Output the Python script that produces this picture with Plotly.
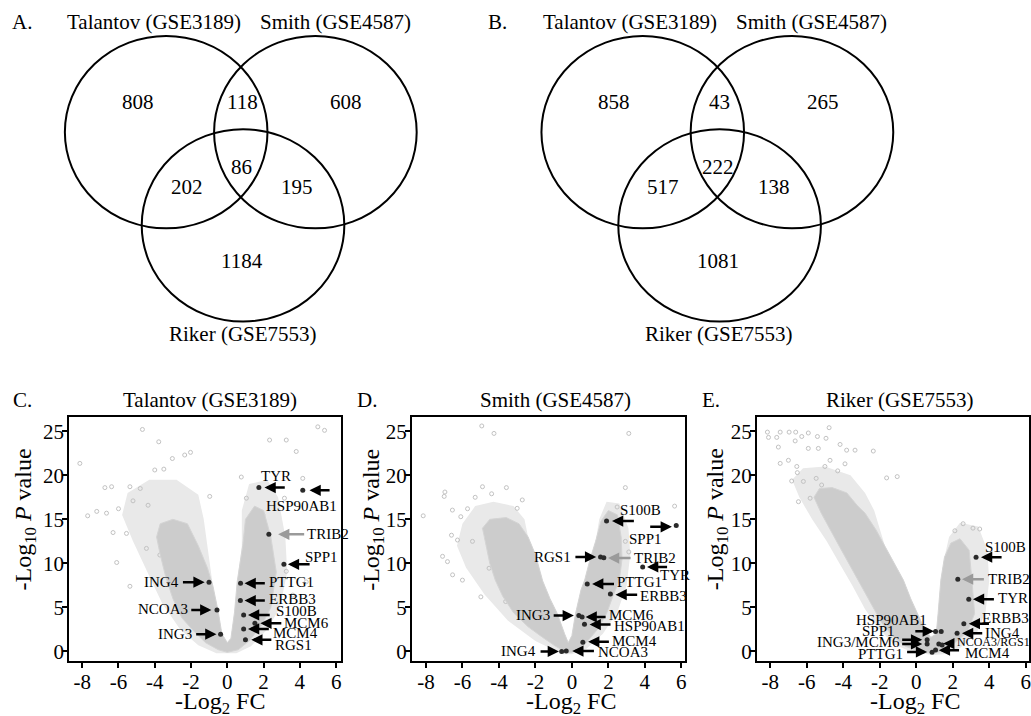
import plotly.graph_objects as go

FONT = "Liberation Serif"
W, H = 1031, 716

# ---------------- Venn data ----------------
venn_sets = ["Talantov (GSE3189)", "Smith (GSE4587)", "Riker (GSE7553)"]
venn_regions = ["T", "TS", "S", "TR", "TSR", "SR", "R"]
venn_A_counts = [808, 118, 608, 202, 86, 195, 1184]
venn_B_counts = [858, 43, 265, 517, 222, 138, 1081]

# ---------------- Volcano panels: labelled genes ----------------
genes_C = ["TYR", "HSP90AB1", "TRIB2", "SPP1", "ING4", "PTTG1", "ERBB3", "NCOA3", "S100B", "MCM6", "MCM4", "ING3", "RGS1"]
fc_C = [1.74, 4.16, 2.29, 3.12, -1.01, 0.73, 0.72, -0.57, 0.90, 1.52, 0.90, -0.37, 1.00]
p_C = [18.6, 18.3, 13.3, 9.9, 7.86, 7.74, 5.78, 4.72, 4.15, 3.2, 2.56, 1.96, 1.32]

genes_D = ["S100B", "SPP1", "RGS1", "TRIB2", "TYR", "PTTG1", "ERBB3", "ING3", "MCM6", "HSP90AB1", "MCM4", "ING4", "NCOA3"]
fc_D = [1.90, 5.72, 1.57, 1.75, 3.88, 0.84, 2.11, 0.38, 0.56, 0.69, 0.60, -0.56, -0.31]
p_D = [14.8, 14.3, 10.73, 10.65, 9.6, 7.67, 6.53, 4.08, 3.92, 3.1, 1.05, 0.0, 0.05]

genes_E = ["S100B", "TRIB2", "TYR", "ERBB3", "ING4", "HSP90AB1", "SPP1", "ING3", "MCM6", "NCOA3", "RGS1", "PTTG1", "MCM4"]
fc_E = [3.28, 2.28, 2.88, 2.61, 2.24, 1.06, 1.37, 0.60, 0.60, 1.24, 1.42, 0.87, 1.06]
p_E = [10.7, 8.2, 5.93, 3.15, 2.07, 2.27, 2.27, 1.32, 0.86, 0.86, 0.75, -0.08, 0.18]

# ---------------- Background gene cloud (envelopes) ----------------
core_C_x = [-0.5, -1.2, -1.8, -2.5, -3.0, -3.4, -3.7, -3.9, -3.7, -3.0, -2.2, -1.6, -1.1, -0.8, -0.5, -0.3, 0.0, 0.2, 0.4, 0.55, 0.85, 1.0, 1.5, 2.0, 2.4, 2.7, 2.4, 1.9, 1.2, 0.6, 0.0]
core_C_y = [0.2, 1.0, 2.2, 3.8, 6.0, 8.5, 11.0, 13.0, 14.5, 15.0, 14.5, 12.0, 9.5, 7.5, 4.5, 2.0, 1.0, 1.5, 4.5, 8.0, 12.0, 15.0, 16.5, 16.0, 13.0, 9.0, 5.0, 3.0, 1.2, 0.2, -0.1]
halo_C_x = [-0.6, -1.6, -2.6, -3.6, -4.4, -5.2, -5.8, -5.5, -4.3, -2.8, -1.6, -1.3, -1.1, -0.8, -0.5, -0.3, 0.0, 0.2, 0.4, 0.55, 0.8, 0.8, 1.2, 2.2, 2.8, 3.2, 3.3, 2.9, 2.2, 1.3, 0.5]
halo_C_y = [-0.2, 0.7, 2.5, 5.5, 9.0, 12.5, 15.5, 18.0, 19.5, 19.5, 17.8, 15.0, 12.0, 7.5, 4.5, 2.0, 1.0, 1.5, 4.5, 8.0, 12.0, 16.0, 19.0, 19.5, 17.5, 13.0, 9.0, 5.0, 2.5, 0.6, -0.2]
out_C_x = [-8.13, -4.68, -3.78, -2.03, -2.35, -3.5, -3.03, -6.75, -6.38, -7.7, -7.2, -6.66, -5.37, -4.8, -4.37, -0.97, 2.33, 3.25, 4.99, 5.36, 4.16, 3.8, 3.15, 1.05, 1.96, 0.77, -5.37, -4.46, -5.56, -3.72, -6.1, 3.61, 3.25, 4.35, -6.3, -6.0, -5.2, -4.0]
out_C_y = [21.35, 25.2, 23.8, 22.6, 22.3, 20.7, 21.9, 18.6, 18.7, 15.4, 15.9, 15.7, 18.7, 18.5, 16.6, 17.6, 24.0, 24.0, 25.5, 25.1, 19.65, 22.7, 17.4, 17.4, 15.5, 19.8, 7.4, 11.7, 13.4, 10.95, 10.1, 6.4, 9.1, 7.9, 13.5, 16.2, 17.1, 20.6]

core_D_x = [-0.3, -0.9, -1.6, -2.4, -3.2, -3.8, -4.2, -4.5, -4.7, -4.9, -4.5, -3.6, -2.9, -2.4, -2.0, -1.6, -1.2, -0.8, -0.4, -0.2, 0.0, 0.2, 0.5, 0.7, 1.0, 1.3, 1.6, 2.0, 2.5, 2.7, 2.75, 2.6, 2.2, 1.9, 1.4, 0.7, 0.0]
core_D_y = [-0.1, 0.6, 1.6, 2.8, 4.4, 6.3, 8.1, 10.0, 12.0, 14.0, 15.0, 15.2, 14.5, 13.0, 11.0, 8.0, 6.0, 4.3, 2.0, 1.0, 1.8, 4.3, 7.0, 8.1, 10.5, 12.5, 14.8, 16.0, 15.5, 13.0, 10.5, 8.1, 6.0, 4.3, 2.5, 0.8, -0.1]
halo_D_x = [-0.5, -2.0, -3.5, -4.8, -5.8, -6.3, -6.0, -5.3, -4.3, -3.2, -2.6, -2.4, -2.0, -1.6, -1.2, -0.8, -0.4, -0.2, 0.0, 0.2, 0.5, 0.7, 1.0, 1.3, 1.5, 1.9, 2.6, 3.1, 3.2, 3.0, 2.5, 1.7, 0.8, 0.0]
halo_D_y = [-0.3, 1.2, 3.5, 6.5, 9.5, 12.0, 14.5, 16.5, 17.0, 16.5, 15.0, 13.0, 11.0, 8.0, 6.0, 4.3, 2.0, 1.0, 1.8, 4.3, 7.0, 8.1, 10.5, 12.5, 15.0, 17.0, 16.8, 14.0, 11.0, 7.5, 4.5, 2.0, 0.3, -0.3]
out_D_x = [-4.94, -4.27, 3.12, 2.93, 5.63, -8.15, -6.96, -7.0, -4.9, -3.59, -6.55, -6.09, -5.72, -2.72, -3.0, 2.48, -7.09, -6.82, -6.54, -6.0, -4.99, -6.27, -5.45, -4.54, -3.63, 3.12, 2.93, -5.3, -4.4, -6.6]
out_D_y = [25.6, 24.75, 24.75, 18.6, 16.5, 15.4, 18.1, 17.6, 18.7, 18.6, 16.05, 15.3, 16.2, 17.2, 16.25, 16.4, 10.8, 10.2, 8.7, 8.1, 6.2, 12.65, 12.5, 9.45, 5.67, 11.3, 12.5, 17.5, 17.9, 13.2]

core_E_x = [0.9, 0.2, -0.6, -1.3, -1.9, -2.3, -2.8, -3.2, -3.7, -4.2, -4.7, -5.2, -5.6, -5.3, -4.6, -3.8, -3.2, -2.8, -2.2, -1.7, -1.2, -0.7, -0.3, 0.05, 0.4, 0.8, 1.1, 1.2, 1.35, 1.55, 1.9, 2.4, 2.9, 3.05, 3.2, 2.8, 2.0, 1.4]
core_E_y = [-0.2, 0.0, 0.6, 1.8, 3.3, 4.8, 6.5, 8.1, 10.0, 11.9, 13.8, 15.7, 17.5, 18.5, 18.6, 18.0, 16.5, 15.7, 13.8, 11.9, 10.0, 8.1, 6.0, 4.3, 2.8, 1.6, 2.0, 4.3, 8.1, 10.7, 12.3, 12.8, 11.5, 8.1, 4.3, 2.2, 0.8, 0.0]
halo_E_x = [0.9, -0.2, -1.2, -2.0, -2.8, -3.5, -4.2, -4.9, -5.7, -6.4, -6.8, -6.2, -5.0, -3.6, -2.8, -2.3, -1.7, -1.2, -0.7, -0.3, 0.05, 0.4, 0.8, 1.1, 1.2, 1.35, 1.55, 1.8, 2.4, 3.4, 3.9, 4.0, 3.8, 3.3, 2.4, 1.5]
halo_E_y = [-0.4, -0.1, 0.8, 2.5, 4.8, 7.5, 10.0, 12.5, 15.0, 17.5, 19.5, 20.8, 21.0, 20.0, 18.0, 16.0, 11.9, 10.0, 8.1, 6.0, 4.3, 2.8, 1.6, 2.0, 4.3, 8.1, 10.7, 13.0, 14.6, 14.2, 11.5, 8.0, 4.5, 2.0, 0.4, -0.3]
out_E_x = [-8.15, -8.09, -7.64, -7.45, -6.96, -6.6, -6.63, -6.27, -5.91, -5.41, -4.94, -4.77, -4.17, -7.55, -7.45, -7.0, -6.54, -5.91, -5.36, -4.72, -3.81, -3.35, -2.35, -6.51, -6.82, -6.18, -5.48, -5.18, -1.62, -1.04, -6.45, -5.81, 2.57, 3.11, 3.48, 2.12, -5.0, -4.3, -3.9]
out_E_y = [24.9, 24.3, 24.3, 24.9, 24.9, 24.9, 23.9, 24.4, 24.8, 24.4, 24.2, 25.4, 23.5, 23.2, 21.35, 21.7, 21.0, 23.05, 23.05, 21.7, 22.85, 22.85, 22.75, 20.3, 19.35, 19.3, 19.65, 18.9, 19.7, 19.85, 17.0, 17.4, 14.5, 14.0, 13.9, 13.7, 21.0, 20.5, 21.3]

x_ticks = [-8, -6, -4, -2, 0, 2, 4, 6]
y_ticks = [0, 5, 10, 15, 20, 25]

# ---------------- Layout geometry ----------------
def fx(p):
    return p / W

def fy(p):
    return 1 - p / H

panels = [
    dict(name="C", ax="x", ay="y", dom=(69.3, 341.7), xr=(-8.72, 6.27), title="Talantov (GSE3189)", tcx=210, lcx=23, ytx=25, xtx=220,
         core=(core_C_x, core_C_y), halo=(halo_C_x, halo_C_y), out=(out_C_x, out_C_y), genes=(genes_C, fc_C, p_C)),
    dict(name="D", ax="x2", ay="y2", dom=(412.7, 686.7), xr=(-8.77, 6.22), title="Smith (GSE4587)", tcx=557, lcx=368, ytx=373, xtx=572,
         core=(core_D_x, core_D_y), halo=(halo_D_x, halo_D_y), out=(out_D_x, out_D_y), genes=(genes_D, fc_D, p_D)),
    dict(name="E", ax="x3", ay="y3", dom=(758.3, 1031.0), xr=(-8.73, 6.18), title="Riker (GSE7553)", tcx=902, lcx=712, ytx=718, xtx=917,
         core=(core_E_x, core_E_y), halo=(halo_E_x, halo_E_y), out=(out_E_x, out_E_y), genes=(genes_E, fc_E, p_E)),
]
Y_TOP, Y_BOT = 418.3, 663.3
YR = (-1.13, 26.6)

# callouts: (text, label_x, label_y, xanchor, tail_x, head_x, arrow_y, colour, fontsize)
callouts = {
    "C": [
        ("TYR", 2.66, 19.95, "center", 3.25, 2.05, 18.6, "black", 15),
        ("HSP90AB1", 4.07, 16.55, "center", 5.72, 4.53, 18.3, "black", 15),
        ("TRIB2", 4.3, 13.3, "left", 4.32, 2.8, 13.3, "#9a9a9a", 15),
        ("SPP1", 5.17, 10.77, "center", 4.62, 3.34, 9.9, "black", 15),
        ("ING4", -2.58, 7.86, "right", -2.53, -1.25, 7.86, "black", 15),
        ("PTTG1", 2.2, 7.86, "left", 2.15, 0.95, 7.74, "black", 15),
        ("ERBB3", 2.2, 5.97, "left", 2.15, 0.95, 5.78, "black", 15),
        ("NCOA3", -2.07, 4.8, "right", -2.07, -0.88, 4.72, "black", 15),
        ("S100B", 2.55, 4.55, "left", 2.42, 1.14, 4.15, "black", 15),
        ("MCM6", 3.0, 3.25, "left", 3.06, 1.82, 3.2, "black", 15),
        ("MCM4", 2.4, 2.07, "left", 2.37, 1.14, 2.56, "black", 15),
        ("ING3", -1.83, 1.96, "right", -1.8, -0.6, 1.96, "black", 15),
        ("RGS1", 2.52, 0.75, "left", 2.51, 1.32, 1.32, "black", 15),
    ],
    "D": [
        ("S100B", 3.75, 16.05, "center", 3.48, 2.2, 14.8, "black", 15),
        ("SPP1", 4.03, 12.73, "center", 4.21, 5.48, 14.15, "black", 15),
        ("RGS1", 0.08, 10.73, "right", 0.11, 1.33, 10.73, "black", 15),
        ("TRIB2", 3.28, 10.6, "left", 3.3, 1.98, 10.6, "#9a9a9a", 15),
        ("TYR", 5.63, 8.69, "center", 5.3, 4.12, 9.6, "black", 15),
        ("PTTG1", 2.37, 7.86, "left", 2.39, 1.11, 7.67, "black", 15),
        ("ERBB3", 3.64, 6.35, "left", 3.66, 2.39, 6.45, "black", 15),
        ("ING3", -1.1, 4.1, "right", -1.08, 0.11, 4.08, "black", 15),
        ("MCM6", 1.95, 4.1, "left", 1.93, 0.75, 3.92, "black", 15),
        ("HSP90AB1", 2.2, 2.95, "left", 2.2, 0.97, 3.05, "black", 15),
        ("MCM4", 2.1, 1.2, "left", 2.11, 0.89, 1.1, "black", 15),
        ("ING4", -1.85, 0.0, "right", -1.8, -0.71, 0.0, "black", 15),
        ("NCOA3", 1.3, -0.05, "left", 1.29, 0.02, 0.05, "black", 15),
    ],
    "E": [
        ("S100B", 4.89, 11.9, "center", 4.76, 3.55, 10.7, "black", 15),
        ("TRIB2", 3.8, 8.2, "left", 3.79, 2.51, 8.2, "#9a9a9a", 15),
        ("TYR", 4.39, 6.1, "left", 4.34, 3.11, 5.93, "black", 15),
        ("ERBB3", 4.89, 3.85, "center", 4.07, 2.88, 3.15, "black", 15),
        ("ING4", 3.66, 2.1, "left", 3.7, 2.51, 2.07, "black", 15),
        ("HSP90AB1", -1.33, 3.6, "center", -0.13, 0.97, 2.3, "black", 15),
        ("SPP1", -2.04, 2.27, "center", None, None, None, "black", 15),
        ("ING3/MCM6", -0.8, 1.13, "right", -0.85, 0.33, 1.32, "black", 15),
        ("", 0, 0, "center", -0.85, 0.33, 0.86, "black", 15),
        ("NCOA3/RGS1", 2.1, 1.13, "left", 2.15, 1.48, 0.9, "black", 12),
        ("PTTG1", -0.6, -0.3, "right", -0.58, 0.6, -0.05, "black", 15),
        ("MCM4", 2.55, -0.2, "left", 2.43, 1.24, 0.15, "black", 15),
    ],
}

fig = go.Figure()
annotations = []
shapes = []

axis_common = dict(showgrid=False, zeroline=False, showline=True, linecolor="black", linewidth=2,
                   mirror=True, ticks="outside", ticklen=5, tickwidth=1.5, tickcolor="black",
                   tickfont=dict(family=FONT, size=21, color="black"))

for pnl in panels:
    xa, ya = pnl["ax"], pnl["ay"]
    hx, hy = pnl["halo"]
    fig.add_trace(go.Scatter(x=hx + [hx[0]], y=hy + [hy[0]], xaxis=xa, yaxis=ya, mode="lines", fill="toself",
                             fillcolor="#e9e9e9", line=dict(width=0), hoverinfo="skip", showlegend=False))
    ox, oy = pnl["out"]
    fig.add_trace(go.Scatter(x=ox, y=oy, xaxis=xa, yaxis=ya, mode="markers",
                             marker=dict(symbol="circle-open", size=4, color="#c2c2c2", line=dict(width=1)),
                             hoverinfo="skip", showlegend=False))
    cx, cy = pnl["core"]
    fig.add_trace(go.Scatter(x=cx + [cx[0]], y=cy + [cy[0]], xaxis=xa, yaxis=ya, mode="lines", fill="toself",
                             fillcolor="#cccccc", line=dict(width=1, color="#d4d4d4"), hoverinfo="skip", showlegend=False))
    g, gx, gy = pnl["genes"]
    fig.add_trace(go.Scatter(x=gx, y=gy, xaxis=xa, yaxis=ya, mode="markers", text=g,
                             marker=dict(size=5, color="#2a2a2a"), showlegend=False))

    suffix = xa[1:]
    xkey = "xaxis" + suffix
    ykey = "yaxis" + suffix
    fig.update_layout(**{
        xkey: dict(axis_common, domain=[fx(pnl["dom"][0]), fx(pnl["dom"][1])], range=list(pnl["xr"]),
                   tickvals=x_ticks, ticktext=[str(v) for v in x_ticks], anchor=ya, ticklabelstandoff=-5),
        ykey: dict(axis_common, domain=[fy(Y_BOT), fy(Y_TOP)], range=list(YR),
                   tickvals=y_ticks, ticktext=[str(v) for v in y_ticks], anchor=xa, ticklabelstandoff=-6),
    })

    annotations.append(dict(x=fx(pnl["tcx"]), y=fy(401), xref="paper", yref="paper", text=pnl["title"],
                            showarrow=False, font=dict(family=FONT, size=21, color="black"), xanchor="center", yanchor="middle"))
    annotations.append(dict(x=fx(pnl["lcx"]), y=fy(401), xref="paper", yref="paper", text=pnl["name"] + ".",
                            showarrow=False, font=dict(family=FONT, size=21, color="black"), xanchor="center", yanchor="middle"))
    annotations.append(dict(x=fx(pnl["ytx"]), y=fy(521), xref="paper", yref="paper",
                            text="-Log<sub>10</sub> <i>P</i> value", textangle=-90,
                            showarrow=False, font=dict(family=FONT, size=24, color="black"), xanchor="center", yanchor="middle"))
    annotations.append(dict(x=fx(pnl["xtx"]), y=fy(705), xref="paper", yref="paper",
                            text="-Log<sub>2</sub> FC",
                            showarrow=False, font=dict(family=FONT, size=24, color="black"), xanchor="center", yanchor="middle"))

    for (txt, lx, ly, anc, tx, hxx, ay_, col, fs) in callouts[pnl["name"]]:
        if txt:
            annotations.append(dict(x=lx, y=ly, xref=xa, yref=ya, text=txt, showarrow=False, xanchor=anc,
                                    yanchor="middle", font=dict(family=FONT, size=fs, color="black")))
        if tx is not None:
            annotations.append(dict(x=hxx, y=ay_, ax=tx, ay=ay_, xref=xa, yref=ya, axref=xa, ayref=ya, text="",
                                    showarrow=True, arrowhead=2, arrowsize=0.9, arrowwidth=2.5, arrowcolor=col))

# ---------------- Venn diagrams (pixel geometry) ----------------
venn_centres = [(166.5, 132.5), (316.0, 132.5), (243.5, 226.0)]
RX, RY = 101.5, 96.5
region_pos = [(138, 102), (243, 102), (347, 102), (187, 188), (242, 167), (298, 188), (242, 262)]
set_label_pos = [(154, 22), (336, 22), (243, 335)]
for offset, counts, letter, lx in [(0, venn_A_counts, "A.", 22), (477.5, venn_B_counts, "B.", 498)]:
    for (cx, cy) in venn_centres:
        shapes.append(dict(type="circle", xref="paper", yref="paper",
                           x0=fx(cx + offset - RX), x1=fx(cx + offset + RX),
                           y0=fy(cy + RY), y1=fy(cy - RY), line=dict(color="black", width=2)))
    for (rx, ry), n in zip(region_pos, counts):
        annotations.append(dict(x=fx(rx + offset), y=fy(ry), xref="paper", yref="paper", text=str(n),
                                showarrow=False, font=dict(family=FONT, size=21, color="black"),
                                xanchor="center", yanchor="middle"))
    for (sx, sy), lab in zip(set_label_pos, venn_sets):
        annotations.append(dict(x=fx(sx + offset), y=fy(sy), xref="paper", yref="paper", text=lab,
                                showarrow=False, font=dict(family=FONT, size=21, color="black"),
                                xanchor="center", yanchor="middle"))
    annotations.append(dict(x=fx(lx), y=fy(22), xref="paper", yref="paper", text=letter,
                            showarrow=False, font=dict(family=FONT, size=21, color="black"),
                            xanchor="center", yanchor="middle"))

fig.update_layout(width=W, height=H, margin=dict(l=0, r=0, t=0, b=0),
                  paper_bgcolor="white", plot_bgcolor="white", showlegend=False,
                  annotations=annotations, shapes=shapes,
                  font=dict(family=FONT, color="black"))

fig.write_html("out.html", config={"displayModeBar": False},
               post_script="document.body.style.margin='0px';document.body.style.overflow='hidden';")
